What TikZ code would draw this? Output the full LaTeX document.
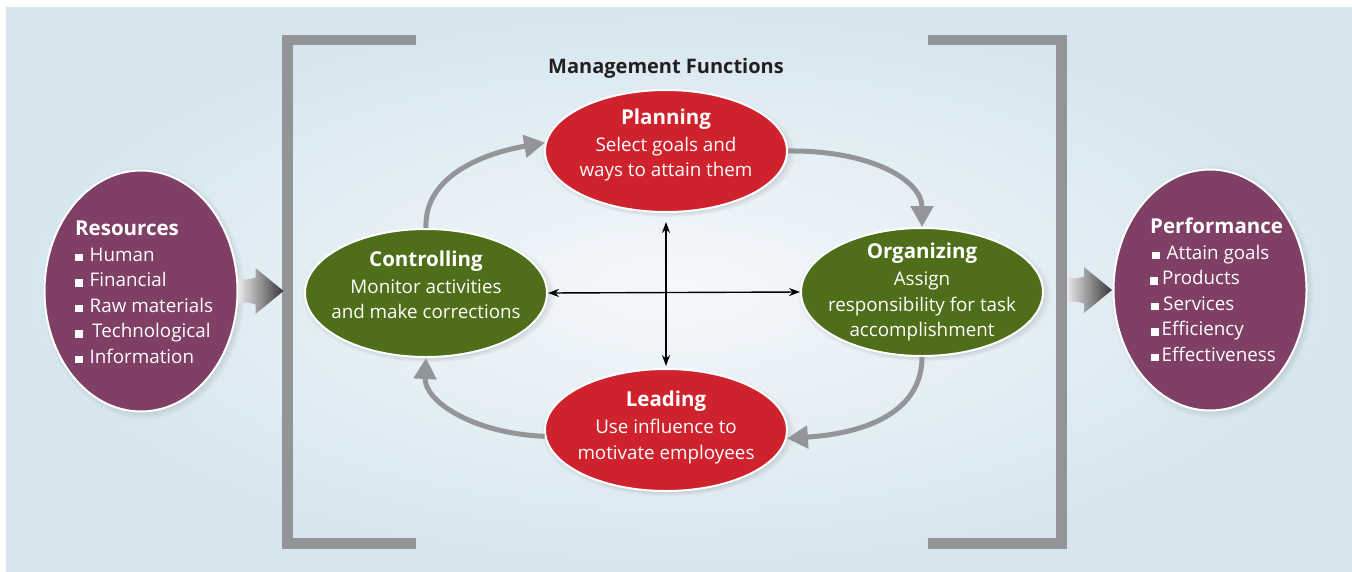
\documentclass[tikz,border=0pt]{standalone}
\usepackage{fontspec}
\setmainfont{Open Sans}
\usetikzlibrary{shapes.geometric,arrows.meta,shadows}

\definecolor{bgedge}{RGB}{213,230,239}
\definecolor{bgmid}{RGB}{245,248,251}
\definecolor{plum}{RGB}{128,63,101}
\definecolor{fnred}{RGB}{208,34,44}
\definecolor{fngreen}{RGB}{78,110,26}
\definecolor{bracketgray}{RGB}{147,148,152}
\definecolor{cyclegray}{RGB}{147,149,152}
\definecolor{ink}{RGB}{35,31,32}
\definecolor{arrowlight}{RGB}{232,232,234}
\definecolor{arrowdark}{RGB}{55,55,58}

\newcommand{\hd}[1]{{\fontsize{20.5}{25.5}\selectfont\bfseries #1}}
\newcommand{\sq}{\rule{7.5pt}{7.5pt}}

\tikzset{
  oval/.style={ellipse, draw=white, line width=2pt, inner sep=0pt,
    circular drop shadow={shadow xshift=2pt, shadow yshift=-2pt,
      shadow scale=1.05, opacity=.45, fill=black!55}},
  fnred/.style={oval, fill=fnred, minimum width=242pt, minimum height=122pt},
  fngreen/.style={oval, fill=fngreen, minimum width=242pt, minimum height=128pt},
  fnplum/.style={oval, fill=plum, minimum width=193pt, minimum height=241pt},
  label/.style={text=white, inner sep=0pt, align=center,
    font=\fontsize{18.8}{25.5}\selectfont},
  listlabel/.style={label, align=left, anchor=west},
  bracket/.style={draw=bracketgray, line width=10.5pt, line join=miter},
  cycle/.style={draw=cyclegray, line width=5pt,
    -{Triangle[length=21pt,width=22pt]}},
  link/.style={draw=black, line width=1.4pt,
    {Stealth[length=11pt,width=8pt]}-{Stealth[length=11pt,width=8pt]}},
  pics/blockarrow/.style={code={
    \shade[left color=arrowlight, right color=arrowdark]
      (0,-12.5) .. controls (8,-11) .. (17,-13.5) -- (17,-23) -- (45,0)
      -- (17,23) -- (17,13.5) .. controls (8,11) .. (0,12.5) -- cycle;
  }}
}

\begin{document}
\begin{tikzpicture}[x=1pt, y=-1pt]
  \useasboundingbox (0,0) rectangle (1352,571);
  % backdrop panel
  \fill[white] (0,0) rectangle (1352,571);
  \shade[inner color=bgmid, outer color=bgedge] (6,7) rectangle (1352,571);

  % brackets around the management functions
  \draw[bracket] (416,40) -- (287.5,40) -- (287.5,543.5) -- (416,543.5);
  \draw[bracket] (928,40) -- (1061.5,40) -- (1061.5,543.5) -- (928,543.5);

  \node[font=\fontsize{20}{24}\selectfont\bfseries, text=ink, anchor=base]
    (title) at (666,73) {Management Functions};

  % input and output
  \node[fnplum] (res) at (141,291) {};
  \node[listlabel] (reslist) at (75,292.5) {\hd{Resources}\\
    \sq\hspace{7pt}Human\\
    \sq\hspace{7pt}Financial\\
    \sq\hspace{7pt}Raw materials\\
    \sq\hspace{9.5pt}Technological\\
    \sq\hspace{7pt}Information};

  \node[fnplum] (perf) at (1210,290) {};
  \node[listlabel] (perflist) at (1150,289.5) {\hd{Performance}\\
    \hspace{2pt}\sq\hspace{7pt}Attain goals\\
    \sq\hspace{4.5pt}Products\\
    \hspace{1pt}\sq\hspace{4.5pt}Services\\
    \hspace{1pt}\sq\hspace{3pt}Efficiency\\
    \hspace{1pt}\sq\hspace{3pt}Effectiveness};

  \pic at (res.east) {blockarrow};
  \pic at (1067,290) {blockarrow};

  % the four functions
  \node[fnred] (plan) at (666,151) {};
  \node[label] (plantext) at (666,145) {\hd{Planning}\\[1.5pt]
    Select goals and\\ ways to attain them};

  \node[fngreen] (org) at (922,292) {};
  \node[label] (orgtext) at (922,292) {\hd{Organizing}\\[1.5pt]
    Assign\\ responsibility for task\\ accomplishment};

  \node[fnred] (lead) at (666,430) {};
  \node[label] (leadtext) at (666,427.5) {\hd{Leading}\\[1.5pt]
    Use influence to\\ motivate employees};

  \node[fngreen] (ctrl) at (426,293) {};
  \node[label] (ctrltext) at (426,285) {\hd{Controlling}\\[1.5pt]
    Monitor activities\\ and make corrections};

  % cycle between the functions
  \draw[cycle] (ctrl.north) .. controls (424,180) and (475,155) .. (plan.176);
  \draw[cycle] (plan.east) .. controls (870,150) and (922,180) .. (org.north);
  \draw[cycle] (org.south) .. controls (922,410) and (870,433) .. (lead.-4);
  \draw[cycle] (lead.183) .. controls (470,433) and (424,400) .. (ctrl.south);

  % links through the centre
  \draw[link] (ctrl.east) -- (org.west);
  \draw[link, shorten <=9pt, shorten >=2pt] (plan.south) -- (lead.north);
\end{tikzpicture}
\end{document}
